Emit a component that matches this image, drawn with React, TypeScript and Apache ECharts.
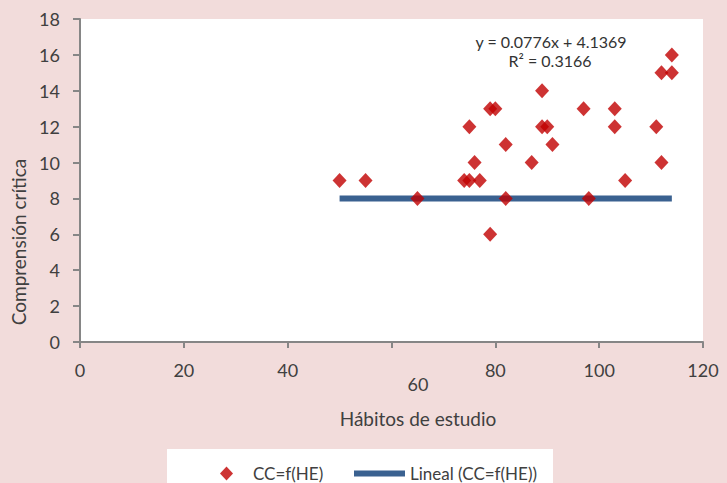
import React, { useEffect, useRef } from "react";
import * as echarts from "echarts";

const habitos = [50, 55, 65, 74, 75, 77, 75, 76, 79, 80, 79, 82, 82, 87, 89, 89, 90, 91, 97, 98, 103, 103, 105, 111, 112, 112, 114, 114];
const comprension = [9, 9, 8, 9, 9, 9, 12, 10, 13, 13, 6, 11, 8, 10, 14, 12, 12, 11, 13, 8, 13, 12, 9, 12, 10, 15, 16, 15];
const trendX = [50, 114];
const trendY = [8, 8];
const xTicks = [0, 20, 40, 60, 80, 100, 120];
const yTicks = [0, 2, 4, 6, 8, 10, 12, 14, 16, 18];
const seriesNames = ["CC=f(HE)", "Lineal (CC=f(HE))"];
const equationLines = ["y = 0.0776x + 4.1369", "R\u00b2 = 0.3166"];

const FONT = "Lato, 'Liberation Sans', sans-serif";
const TXT = "#404040";

export default function App() {
  const ref = useRef<HTMLDivElement>(null);
  useEffect(() => {
    if (!ref.current) return;
    const chart = echarts.init(ref.current, undefined, { renderer: "svg" });
    const scatterData = habitos.map((x, i) => [x, comprension[i]]);
    const trendData = trendX.map((x, i) => [x, trendY[i]]);
    chart.setOption({
      animation: false,
      backgroundColor: "#f2dcdb",
      textStyle: { fontFamily: FONT },
      grid: {
        left: 80,
        right: 24,
        top: 19,
        bottom: 141,
        show: true,
        backgroundColor: "#ffffff",
        borderWidth: 0,
      },
      xAxis: {
        type: "value",
        min: xTicks[0],
        max: xTicks[xTicks.length - 1],
        interval: 20,
        splitLine: { show: false },
        axisLine: { lineStyle: { color: "#868686", width: 2 } },
        axisTick: { show: true, length: 6, lineStyle: { color: "#868686", width: 2 } },
        axisLabel: {
          color: TXT,
          fontSize: 18,
          fontFamily: FONT,
          margin: 19,
          formatter: (v: number) => (v === 60 ? "" : String(v)),
        },
      },
      yAxis: {
        type: "value",
        min: yTicks[0],
        max: yTicks[yTicks.length - 1],
        interval: 2,
        splitLine: { show: false },
        axisLine: { show: true, lineStyle: { color: "#868686", width: 2 } },
        axisTick: { show: true, length: 7, lineStyle: { color: "#868686", width: 2 } },
        axisLabel: { color: TXT, fontSize: 18, fontFamily: FONT, margin: 20 },
      },
      legend: [
        {
          data: [seriesNames[0]],
          left: 215,
          top: 460,
          itemWidth: 13,
          itemHeight: 14,
          textStyle: { color: TXT, fontSize: 17, fontFamily: FONT, padding: [0, 0, 0, 15] },
        },
        {
          data: [seriesNames[1]],
          left: 349,
          top: 460,
          itemWidth: 51,
          itemHeight: 6,
          icon: "rect",
          textStyle: { color: TXT, fontSize: 17, fontFamily: FONT },
        },
      ],
      graphic: [
        {
          type: "rect",
          z: -1,
          shape: { x: 167, y: 449, width: 386, height: 40 },
          style: { fill: "#ffffff" },
        },
        {
          type: "text",
          x: 551,
          y: 41,
          style: { text: equationLines[0], fill: "#333333", font: `16px ${FONT}`, textAlign: "center", textVerticalAlign: "middle" },
        },
        {
          type: "text",
          x: 550,
          y: 60,
          style: { text: equationLines[1], fill: "#333333", font: `16px ${FONT}`, textAlign: "center", textVerticalAlign: "middle" },
        },
        {
          type: "text",
          x: 418,
          y: 384,
          style: { text: "60", fill: TXT, font: `18px ${FONT}`, textAlign: "center", textVerticalAlign: "middle" },
        },
        {
          type: "text",
          x: 418,
          y: 418,
          style: { text: "Hábitos de estudio", fill: TXT, font: `19px ${FONT}`, textAlign: "center", textVerticalAlign: "middle" },
        },
        {
          type: "text",
          x: 18,
          y: 242,
          rotation: Math.PI / 2,
          style: { text: "Comprensión crítica", fill: TXT, font: `19px ${FONT}`, textAlign: "center", textVerticalAlign: "middle" },
        },
      ],
      series: [
        {
          name: seriesNames[1],
          type: "line",
          data: trendData,
          showSymbol: false,
          symbol: "none",
          lineStyle: { color: "#3a6190", width: 6 },
          itemStyle: { color: "#3a6190" },
          z: 2,
        },
        {
          name: seriesNames[0],
          type: "scatter",
          data: scatterData,
          symbol: "diamond",
          symbolSize: [14, 15],
          itemStyle: { color: "#c00000" },
          z: 3,
        },
      ],
    });
    return () => chart.dispose();
  }, []);
  return <div ref={ref} style={{ position: "fixed", left: 0, top: 0, width: 727, height: 483 }} />;
}
